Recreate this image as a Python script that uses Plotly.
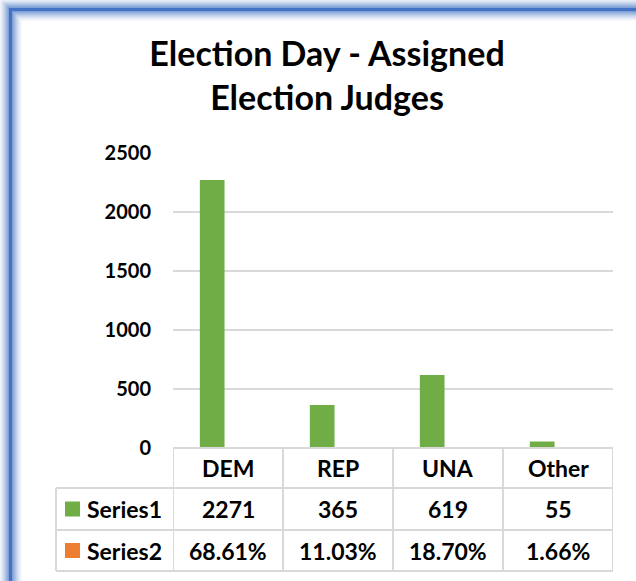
import plotly.graph_objects as go

categories = ["DEM", "REP", "UNA", "Other"]
series1 = [2271, 365, 619, 55]
series2 = [0.6861, 0.1103, 0.1870, 0.0166]
series_names = ["Series1", "Series2"]
y_ticks = [0, 500, 1000, 1500, 2000, 2500]
title_text = "Election Day - Assigned<br>Election Judges"

GREEN = "#70AD47"
ORANGE = "#ED7D31"
GRID = "#D9D9D9"
FONT = "Lato"

W, H = 636, 581
L, R, T, B = 173, 23, 153, 133
PW, PH = W - L - R, H - T - B


def px(p):
    return (p - L) / PW


def py(p):
    return (H - B - p) / PH


BAR_W = 0.2245
BAR_OFF = -0.256

fig = go.Figure()
fig.add_trace(go.Bar(x=categories, y=series1, name=series_names[0],
                     width=BAR_W, offset=BAR_OFF,
                     marker=dict(color=GREEN, line=dict(width=0))))
fig.add_trace(go.Bar(x=categories, y=series2, name=series_names[1],
                     width=BAR_W, offset=BAR_OFF + BAR_W,
                     marker=dict(color=ORANGE, line=dict(width=0))))

shapes = []
# frame (left and top edges visible) with soft glow
FX, FY = 10.5, 9.5
for w, op in [(22, 0.08), (18, 0.12), (14, 0.18), (10, 0.25), (6, 0.35), (3, 1.0)]:
    col = "#4472C4" if op == 1.0 else f"rgba(68,114,196,{op})"
    shapes.append(dict(type="line", xref="paper", yref="paper",
                       x0=px(FX), x1=px(FX), y0=py(FY - w / 2), y1=py(H + 30),
                       line=dict(color=col, width=w), layer="below"))
    shapes.append(dict(type="line", xref="paper", yref="paper",
                       x0=px(FX + w / 2), x1=px(W + 30), y0=py(FY), y1=py(FY),
                       line=dict(color=col, width=w), layer="below"))

# table grid
row_y = [448, 488, 530, 571]
tbl_left = 56
line = dict(color=GRID, width=2)
shapes.append(dict(type="line", xref="x", yref="paper", x0=-0.5, x1=len(categories) - 0.5,
                   y0=py(row_y[0]), y1=py(row_y[0]), line=line))
for yy in row_y[1:]:
    shapes.append(dict(type="line", xref="paper", yref="paper", x0=px(tbl_left), x1=1,
                       y0=py(yy), y1=py(yy), line=line))
shapes.append(dict(type="line", xref="paper", yref="paper", x0=px(tbl_left), x1=px(tbl_left),
                   y0=py(row_y[1]), y1=py(row_y[3]), line=line))
for k in range(len(categories) + 1):
    shapes.append(dict(type="line", xref="x", yref="paper", x0=k - 0.5, x1=k - 0.5,
                       y0=py(row_y[0]), y1=py(row_y[3]), line=line))

# legend keys
for i, col in enumerate([GREEN, ORANGE]):
    yc = (row_y[i + 1] + row_y[i + 2]) / 2
    shapes.append(dict(type="rect", xref="paper", yref="paper",
                       x0=px(65), x1=px(80), y0=py(yc + 7.5), y1=py(yc - 7.5),
                       fillcolor=col, line=dict(width=0)))

annotations = []
tfont = dict(family=FONT, size=23, color="black", weight="bold")
for k, c in enumerate(categories):
    annotations.append(dict(x=k, y=py((row_y[0] + row_y[1]) / 2), xref="x", yref="paper",
                            text=c, showarrow=False, font=tfont,
                            xanchor="center", yanchor="middle"))
    annotations.append(dict(x=k, y=py((row_y[1] + row_y[2]) / 2), xref="x", yref="paper",
                            text=f"{series1[k]}", showarrow=False, font=tfont,
                            xanchor="center", yanchor="middle"))
    annotations.append(dict(x=k, y=py((row_y[2] + row_y[3]) / 2), xref="x", yref="paper",
                            text=f"{series2[k]:.2%}", showarrow=False, font=tfont,
                            xanchor="center", yanchor="middle"))
for i, nm in enumerate(series_names):
    annotations.append(dict(x=px(85), y=py((row_y[i + 1] + row_y[i + 2]) / 2),
                            xref="paper", yref="paper", text=nm,
                            showarrow=False, font=tfont, xanchor="left", yanchor="middle"))

fig.update_layout(
    width=W, height=H,
    margin=dict(l=L, r=R, t=T, b=B),
    paper_bgcolor="white", plot_bgcolor="white",
    showlegend=False,
    barmode="overlay",
    title=dict(text=title_text, xref="container", x=327 / W, xanchor="center",
               yref="container", y=1 - 66 / H, yanchor="middle",
               font=dict(family=FONT, size=34, color="black", weight="bold")),
    xaxis=dict(type="category", range=[-0.5, 3.5], showticklabels=False,
               showgrid=False, zeroline=False, showline=False, fixedrange=True),
    yaxis=dict(range=[0, 2500], tickvals=y_ticks, showgrid=True, gridcolor=GRID,
               gridwidth=1.5, zeroline=False, showline=False,
               ticklabelstandoff=21,
               tickfont=dict(family=FONT, size=20, color="black", weight="bold")),
    shapes=shapes, annotations=annotations,
    font=dict(family=FONT),
)

fig.write_html("out.html", config={"displayModeBar": False},
               post_script="document.body.style.margin='0';"
                           "document.body.style.overflow='hidden';"
                           "document.documentElement.style.overflow='hidden';")
